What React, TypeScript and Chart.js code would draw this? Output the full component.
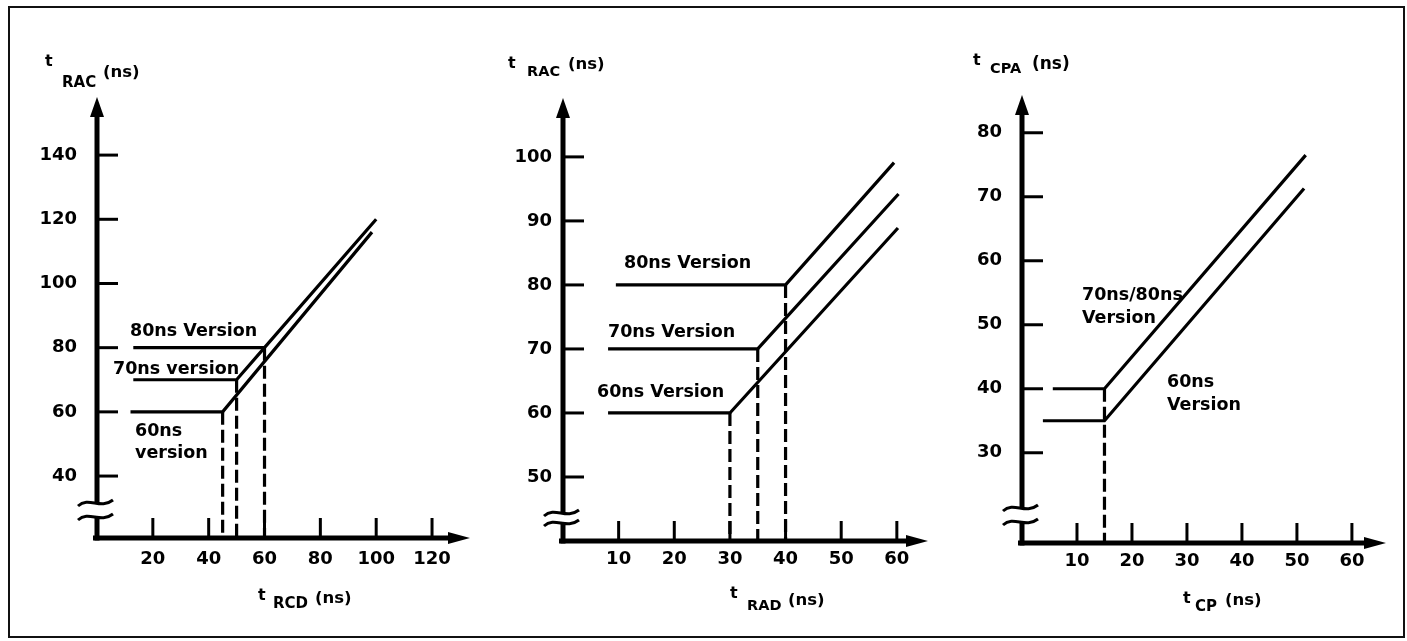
import React, { useEffect, useRef } from "react";
import { Chart, registerables } from "chart.js";

Chart.register(...registerables);

// ---------- Panel 1: tRAC vs tRCD ----------
const p1XTicks = [20, 40, 60, 80, 100, 120];
const p1YTicks = [40, 60, 80, 100, 120, 140];
const p1V80X = [13, 60, 100];
const p1V80Y = [80, 80, 120];
const p1V70X = [13, 50, 60];
const p1V70Y = [70, 70, 80];
const p1V60X = [12, 45, 98.5];
const p1V60Y = [60, 60, 116];
const p1DashX = [45, 50, 60];
const p1DashY = [60, 70, 80];

// ---------- Panel 2: tRAC vs tRAD ----------
const p2XTicks = [10, 20, 30, 40, 50, 60];
const p2YTicks = [50, 60, 70, 80, 90, 100];
const p2V80X = [9.5, 40, 59.5];
const p2V80Y = [80, 80, 99.1];
const p2V70X = [8.1, 35, 60.3];
const p2V70Y = [70, 70, 94.2];
const p2V60X = [8.1, 30, 60.2];
const p2V60Y = [60, 60, 88.9];
const p2DashX = [30, 35, 40];
const p2DashY = [60, 70, 80];

// ---------- Panel 3: tCPA vs tCP ----------
const p3XTicks = [10, 20, 30, 40, 50, 60];
const p3YTicks = [30, 40, 50, 60, 70, 80];
const p3V7080X = [5.6, 15, 51.6];
const p3V7080Y = [40, 40, 76.5];
const p3V60X = [3.8, 15, 51.3];
const p3V60Y = [35, 35, 71.3];
const p3DashX = [15];
const p3DashY = [40];

const FONT = '"DejaVu Sans", sans-serif';
const EDGE = 6;

type Part = { t: string; x: number; y: number; size: number };
type Note = { t: string; x: number; y: number };
type Panel = {
  left: number;
  width: number;
  pad: { left: number; top: number; right: number; bottom: number };
  xMax: number;
  yMin: number;
  yMax: number;
  xTicks: number[];
  yTicks: number[];
  series: { x: number[]; y: number[] }[];
  dashX: number[];
  dashY: number[];
  yLabelPad: number;
  xLabelPad: number;
  breaks: [number, number];
  titles: Part[];
  notes: Note[];
};

const panels: Panel[] = [
  {
    left: 0,
    width: 480,
    pad: { left: 97, top: 97, right: 10, bottom: 103 },
    xMax: 133.6,
    yMin: 20.7,
    yMax: 158.1,
    xTicks: p1XTicks,
    yTicks: p1YTicks,
    series: [
      { x: p1V80X, y: p1V80Y },
      { x: p1V70X, y: p1V70Y },
      { x: p1V60X, y: p1V60Y },
    ],
    dashX: p1DashX,
    dashY: p1DashY,
    yLabelPad: 20,
    xLabelPad: 11,
    breaks: [-35, -21],
    titles: [
      { t: "t", x: 45, y: 66, size: 16 },
      { t: "RAC", x: 62, y: 87, size: 15 },
      { t: "(ns)", x: 103, y: 77, size: 16.5 },
      { t: "t", x: 258, y: 600, size: 16 },
      { t: "RCD", x: 273, y: 608, size: 15 },
      { t: "(ns)", x: 315, y: 603, size: 16.5 },
    ],
    notes: [
      { t: "80ns Version", x: 130, y: 331 },
      { t: "70ns version", x: 113, y: 369 },
      { t: "60ns", x: 135, y: 431 },
      { t: "version", x: 135, y: 453 },
    ],
  },
  {
    left: 480,
    width: 460,
    pad: { left: 83, top: 98, right: 12, bottom: 100 },
    xMax: 65.6,
    yMin: 40,
    yMax: 109.2,
    xTicks: p2XTicks,
    yTicks: p2YTicks,
    series: [
      { x: p2V80X, y: p2V80Y },
      { x: p2V70X, y: p2V70Y },
      { x: p2V60X, y: p2V60Y },
    ],
    dashX: p2DashX,
    dashY: p2DashY,
    yLabelPad: 11,
    xLabelPad: 8,
    breaks: [-28, -18],
    titles: [
      { t: "t", x: 508, y: 68, size: 16 },
      { t: "RAC", x: 527, y: 76, size: 14.5 },
      { t: "(ns)", x: 568, y: 69, size: 16.5 },
      { t: "t", x: 730, y: 598, size: 16 },
      { t: "RAD", x: 747, y: 610, size: 14.5 },
      { t: "(ns)", x: 788, y: 605, size: 16.5 },
    ],
    notes: [
      { t: "80ns Version", x: 624, y: 263 },
      { t: "70ns Version", x: 608, y: 332 },
      { t: "60ns Version", x: 597, y: 392 },
    ],
  },
  {
    left: 940,
    width: 467,
    pad: { left: 82, top: 95, right: 21, bottom: 98 },
    xMax: 66.2,
    yMin: 15.9,
    yMax: 85.9,
    xTicks: p3XTicks,
    yTicks: p3YTicks,
    series: [
      { x: p3V7080X, y: p3V7080Y },
      { x: p3V60X, y: p3V60Y },
    ],
    dashX: p3DashX,
    dashY: p3DashY,
    yLabelPad: 20,
    xLabelPad: 8,
    breaks: [-35, -21],
    titles: [
      { t: "t", x: 973, y: 65, size: 16 },
      { t: "CPA", x: 990, y: 73, size: 14.5 },
      { t: "(ns)", x: 1032, y: 69, size: 17 },
      { t: "t", x: 1183, y: 603, size: 16 },
      { t: "CP", x: 1195, y: 611, size: 15 },
      { t: "(ns)", x: 1225, y: 605, size: 16.5 },
    ],
    notes: [
      { t: "70ns/80ns", x: 1082, y: 295 },
      { t: "Version", x: 1082, y: 318 },
      { t: "60ns", x: 1167, y: 382 },
      { t: "Version", x: 1167, y: 405 },
    ],
  },
];

function makeDecor(p: Panel) {
  return {
    id: "decor",
    afterDraw(chart: any) {
      const ctx: CanvasRenderingContext2D = chart.ctx;
      const { left, right, top, bottom } = chart.chartArea;
      const xs = chart.scales.x;
      const ys = chart.scales.y;
      const ax = left;
      const ay = bottom;
      const b1 = ay + p.breaks[0];
      const b2 = ay + p.breaks[1];
      ctx.save();
      ctx.strokeStyle = "#000";
      ctx.fillStyle = "#000";
      ctx.lineCap = "butt";
      // y axis
      ctx.lineWidth = 5;
      ctx.beginPath();
      ctx.moveTo(ax, top + 14);
      ctx.lineTo(ax, b1 + 1);
      ctx.moveTo(ax, b2 - 1);
      ctx.lineTo(ax, ay + 2.5);
      ctx.stroke();
      ctx.beginPath();
      ctx.moveTo(ax, top);
      ctx.lineTo(ax - 7, top + 20);
      ctx.lineTo(ax + 7, top + 20);
      ctx.closePath();
      ctx.fill();
      // x axis
      ctx.beginPath();
      ctx.moveTo(ax - 4, ay);
      ctx.lineTo(right - 16, ay);
      ctx.stroke();
      ctx.beginPath();
      ctx.moveTo(right, ay);
      ctx.lineTo(right - 22, ay - 6);
      ctx.lineTo(right - 22, ay + 6);
      ctx.closePath();
      ctx.fill();
      // axis break squiggles
      ctx.lineWidth = 3;
      for (const yb of [b1, b2]) {
        ctx.beginPath();
        ctx.moveTo(ax - 19, yb + 3);
        ctx.bezierCurveTo(ax - 8, yb - 7, ax + 3, yb + 7, ax + 16, yb - 3);
        ctx.stroke();
      }
      // tick marks
      for (const v of p.yTicks) {
        const py = ys.getPixelForValue(v);
        ctx.beginPath();
        ctx.moveTo(ax, py);
        ctx.lineTo(ax + 21, py);
        ctx.stroke();
      }
      for (const v of p.xTicks) {
        const px = xs.getPixelForValue(v);
        ctx.beginPath();
        ctx.moveTo(px, ay);
        ctx.lineTo(px, ay - 20);
        ctx.stroke();
      }
      // titles
      ctx.textBaseline = "alphabetic";
      ctx.textAlign = "left";
      for (const t of p.titles) {
        ctx.font = `bold ${t.size}px ${FONT}`;
        ctx.fillText(t.t, t.x - p.left, t.y);
      }
      // notes
      ctx.textBaseline = "middle";
      ctx.font = `bold 17.5px ${FONT}`;
      for (const n of p.notes) {
        ctx.fillText(n.t, n.x - p.left, n.y);
      }
      ctx.restore();
    },
  };
}

function PanelChart({ p }: { p: Panel }) {
  const ref = useRef<HTMLCanvasElement | null>(null);
  useEffect(() => {
    if (!ref.current) return;
    const solid = p.series.map((s) => ({
      data: s.x.map((x, i) => ({ x, y: s.y[i] })),
      borderColor: "#000",
      borderWidth: 3.2,
      pointRadius: 0,
      tension: 0,
      fill: false,
      borderJoinStyle: "miter" as const,
      clip: false as any,
    }));
    const dashed = p.dashX.map((x, i) => ({
      data: [
        { x, y: p.dashY[i] },
        { x, y: p.yMin },
      ],
      borderColor: "#000",
      borderWidth: 3.2,
      borderDash: [13, 5],
      pointRadius: 0,
      tension: 0,
      fill: false,
      clip: false as any,
    }));
    const tickFont = { family: FONT, size: 18, weight: "bold" as const };
    const yWidth = p.pad.left - EDGE;
    const xHeight = p.pad.bottom - EDGE;
    const chart = new Chart(ref.current, {
      type: "line",
      data: { datasets: [...solid, ...dashed] as any },
      options: {
        animation: false,
        responsive: false,
        events: [],
        layout: {
          padding: { left: EDGE, top: p.pad.top, right: p.pad.right, bottom: EDGE },
        },
        plugins: { legend: { display: false }, tooltip: { enabled: false } },
        scales: {
          x: {
            type: "linear",
            min: 0,
            max: p.xMax,
            grid: { display: false, drawTicks: false },
            border: { display: false },
            ticks: {
              color: "#000",
              font: tickFont,
              padding: p.xLabelPad,
              autoSkip: false,
              maxRotation: 0,
            },
            afterBuildTicks: (s: any) => {
              s.ticks = p.xTicks.map((v) => ({ value: v }));
            },
            afterFit: (s: any) => {
              s.height = xHeight;
            },
          },
          y: {
            type: "linear",
            min: p.yMin,
            max: p.yMax,
            grid: { display: false, drawTicks: false },
            border: { display: false },
            ticks: {
              color: "#000",
              font: tickFont,
              padding: p.yLabelPad,
              autoSkip: false,
            },
            afterBuildTicks: (s: any) => {
              s.ticks = p.yTicks.map((v) => ({ value: v }));
            },
            afterFit: (s: any) => {
              s.width = yWidth;
            },
          },
        },
      } as any,
      plugins: [makeDecor(p)],
    });
    return () => chart.destroy();
  }, [p]);
  return (
    <canvas
      ref={ref}
      width={p.width}
      height={641}
      style={{ position: "absolute", left: p.left, top: 0, width: p.width, height: 641 }}
    />
  );
}

export default function App() {
  return (
    <div
      style={{
        position: "fixed",
        left: 0,
        top: 0,
        width: 1407,
        height: 641,
        background: "#fff",
        overflow: "hidden",
      }}
    >
      <div
        style={{
          position: "absolute",
          left: 8,
          top: 6,
          width: 1397,
          height: 632,
          border: "2px solid #111",
          boxSizing: "border-box",
        }}
      />
      {panels.map((p, i) => (
        <PanelChart key={i} p={p} />
      ))}
    </div>
  );
}
